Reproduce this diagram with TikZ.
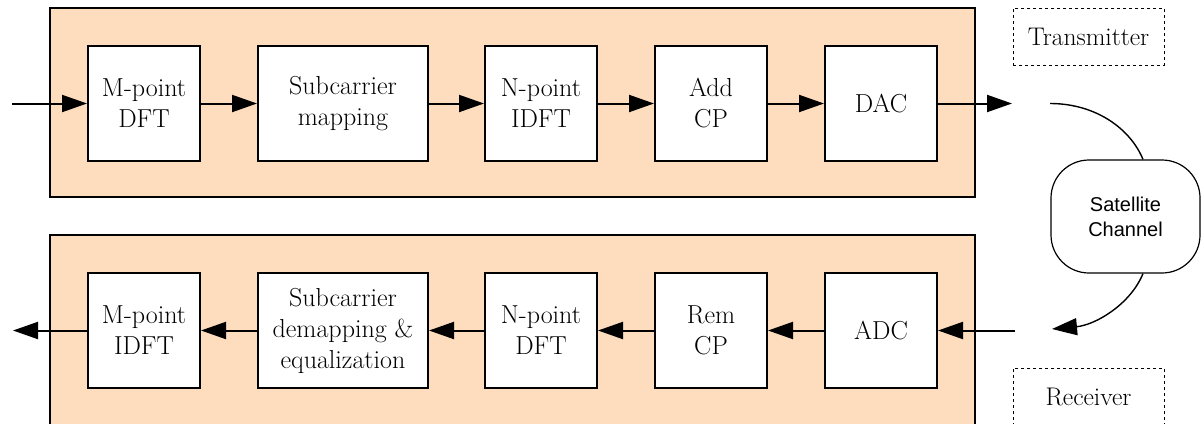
\documentclass[tikz,border=0pt]{standalone}
\usepackage{fontspec}
\newfontfamily\sansf{Liberation Sans}
\usetikzlibrary{arrows.meta}
\definecolor{peach}{RGB}{253,221,190}
\tikzset{
  panel/.style={draw=black, line width=2pt, fill=peach},
  blk/.style={draw=black, line width=2pt, fill=white, minimum height=115pt, align=center,
    font=\rmfamily\fontsize{26}{31}\selectfont, inner sep=0pt},
  flow/.style={line width=2pt, -{Triangle[length=25pt,width=17pt]}},
  label/.style={draw=black, dashed, line width=0.8pt, minimum width=151pt, minimum height=57pt,
    font=\rmfamily\fontsize{25.5}{30}\selectfont, inner sep=0pt},
  chan/.style={draw=black, line width=1.2pt, rounded corners=38pt, minimum width=149pt, minimum height=113pt,
    align=center, font=\sansf\fontsize{20}{25}\selectfont, inner sep=0pt}
}
\begin{document}
\begin{tikzpicture}[x=1pt,y=-1pt]
\useasboundingbox (0,0) rectangle (1201,423);
\clip (0,0) rectangle (1201,423);
% panels
\draw[panel] (50,8) rectangle (975,197);
\draw[panel] (50,235) rectangle (975,440);
% transmitter blocks
\node[blk, minimum width=112pt] (mdft) at (144,103.5) {M-point\\DFT};
\node[blk, minimum width=170pt] (map) at (343,103.5) {Subcarrier\\mapping};
\node[blk, minimum width=112pt] (nidft) at (541,103.5) {N-point\\IDFT};
\node[blk, minimum width=112pt] (addcp) at (711,103.5) {Add\\CP};
\node[blk, minimum width=112pt] (dac) at (881,103.5) {DAC};
% receiver blocks
\node[blk, minimum width=112pt] (midft) at (144,330.5) {M-point\\IDFT};
\node[blk, minimum width=170pt] (demap) at (343,330.5) {Subcarrier\\demapping \&\\equalization};
\node[blk, minimum width=112pt] (ndft) at (541,330.5) {N-point\\DFT};
\node[blk, minimum width=112pt] (remcp) at (711,330.5) {Rem\\CP};
\node[blk, minimum width=112pt] (adc) at (881,330.5) {ADC};
% labels
\node[label] (tx) at (1088.5,36.5) {Transmitter};
\node[label] (rx) at (1088.5,396.5) {Receiver};
\node[chan] (sat) at (1125.5,216.5) {Satellite\\Channel};
% coordinates
\coordinate (in) at (12,103.5);
\coordinate (txout) at (1012,103.5);
\coordinate (arcA) at (1050,103.5);
\coordinate (arcB) at (1052,329);
\coordinate (rxin) at (1015,330.5);
\coordinate (out) at (13,330.5);
% transmitter flow
\draw[flow] (in) -- (mdft);
\draw[flow] (mdft) -- (map);
\draw[flow] (map) -- (nidft);
\draw[flow] (nidft) -- (addcp);
\draw[flow] (addcp) -- (dac);
\draw[flow] (dac) -- (txout);
% channel arcs
\draw[line width=1.4pt] (arcA) .. controls (1095,103.5) and (1130,128) .. (sat.north -| 1143,0);
\draw[flow, line width=1.4pt] (sat.south -| 1143,0) .. controls (1130,305) and (1095,325) .. (arcB);
% receiver flow
\draw[flow] (rxin) -- (adc);
\draw[flow] (adc) -- (remcp);
\draw[flow] (remcp) -- (ndft);
\draw[flow] (ndft) -- (demap);
\draw[flow] (demap) -- (midft);
\draw[flow] (midft) -- (out);
\end{tikzpicture}
\end{document}
